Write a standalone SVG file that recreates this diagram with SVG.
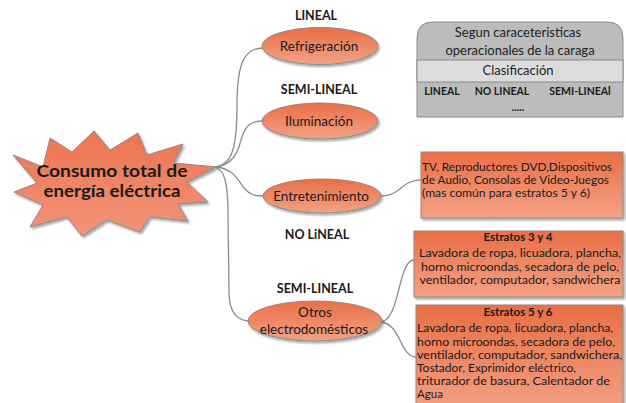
<svg xmlns="http://www.w3.org/2000/svg" width="626" height="403" viewBox="0 0 626 403">
<defs>
<linearGradient id="og" x1="0" y1="0" x2="0" y2="1">
<stop offset="0" stop-color="#ea6e45"/>
<stop offset="1" stop-color="#f3a285"/>
</linearGradient>
<linearGradient id="sg" x1="0" y1="0" x2="0" y2="1">
<stop offset="0" stop-color="#ec7450"/>
<stop offset="1" stop-color="#f29478"/>
</linearGradient>
<filter id="sh" x="-10%" y="-10%" width="130%" height="130%">
<feDropShadow dx="1.5" dy="2" stdDeviation="1.2" flood-color="#000" flood-opacity="0.35"/>
</filter>
</defs>
<style>
.shape{fill:url(#og);stroke:#8a8a8a;stroke-width:1}
.con{fill:none;stroke:#8c8c8c;stroke-width:1.3}
text{font-family:Lato,"Liberation Sans",sans-serif;fill:#1a1a1a}
.lbl{font-size:13.5px;text-anchor:middle}
.cat{font-size:12.5px;font-weight:bold;text-anchor:middle}
.box{font-size:11.5px}
.boxc{font-size:11.5px;text-anchor:middle}
.bt{font-size:11.5px;font-weight:bold;text-anchor:middle}
.gr{font-size:13px;text-anchor:middle;fill:#222}
.sm{font-size:10.5px;font-weight:bold;text-anchor:middle}
</style>
<rect width="626" height="403" fill="#fff"/>

<g id="connectors">
<path class="con" d="M215,167 C233,165 237,145 237,105 C237,62 245,48 263,48"/>
<path class="con" d="M215,167 C233,165 238,152 241,140 C245,126 250,121 263,121"/>
<path class="con" d="M215,167 C233,168 238,180 244,188 C250,195 255,196 263,196"/>
<path class="con" d="M215,167 C224,170 228,180 228,215 L229,292 C229,312 237,320 248,321"/>
<path class="con" d="M381,196 C401,196 401,180 421,180"/>
<path class="con" d="M381,322 C400,320 398,260 414,260"/>
<path class="con" d="M381,322 C401,324 400,357 416,357"/>
</g>

<g id="star">
<polygon fill="url(#sg)" stroke="#8a8a8a" stroke-width="1" filter="url(#sh)" points="94,131 110,150 138,133 147,155 183,144 174,163 217,167 187,182 208,202 178,204 188,221 150,217 140,232 107,220 82,236 67,217 30,227 43,205 14,192 37,183 13,155 43,167 50,138 72,152"/>
<text x="112" y="177" font-size="17" font-weight="bold" text-anchor="middle" textLength="151" lengthAdjust="spacingAndGlyphs">Consumo total de</text>
<text x="112" y="197" font-size="17" font-weight="bold" text-anchor="middle" textLength="137" lengthAdjust="spacingAndGlyphs">energía eléctrica</text>
</g>

<g id="refrigeracion">
<text class="cat" x="316" y="20">LINEAL</text>
<ellipse class="shape" cx="320" cy="46" rx="58" ry="18.5" filter="url(#sh)"/>
<text class="lbl" x="319" y="51">Refrigeración</text>
</g>

<g id="iluminacion">
<text class="cat" x="319" y="94">SEMI-LINEAL</text>
<ellipse class="shape" cx="320" cy="121" rx="58" ry="18" filter="url(#sh)"/>
<text class="lbl" x="319" y="126">Iluminación</text>
</g>

<g id="entretenimiento">
<ellipse class="shape" cx="322" cy="196" rx="59" ry="17" filter="url(#sh)"/>
<text class="lbl" x="321" y="201">Entretenimiento</text>
<text class="cat" x="317" y="239">NO LiNEAL</text>
</g>

<g id="otros">
<text class="cat" x="315" y="293">SEMI-LINEAL</text>
<ellipse class="shape" cx="315" cy="321" rx="67" ry="20" filter="url(#sh)"/>
<text class="lbl" x="315" y="317">Otros</text>
<text class="lbl" x="314" y="334">electrodomésticos</text>
</g>

<g id="clasificacion">
<path d="M417,117 L417,38 Q417,22 433,22 L607,22 Q623,22 623,38 L623,117 Z" fill="#bcbcbc" stroke="#8a8a8a" stroke-width="1"/>
<rect x="417" y="60" width="206" height="22" fill="#dcdcdc" stroke="#8a8a8a" stroke-width="1"/>
<text class="gr" x="518" y="37">Segun caraceteristicas</text>
<text class="gr" x="520" y="55">operacionales de la caraga</text>
<text class="gr" x="518" y="75">Clasificación</text>
<text class="sm" x="442" y="95">LINEAL</text>
<text class="sm" x="502" y="95">NO LINEAL</text>
<text class="sm" x="580" y="95">SEMI-LINEAl</text>
<text class="sm" x="518" y="111" fill="#666" font-weight="normal">.....</text>
</g>

<g id="tv">
<rect class="shape" x="421" y="152" width="202" height="66" filter="url(#sh)"/>
<text class="box" x="422" y="171" textLength="190" lengthAdjust="spacingAndGlyphs">TV, Reproductores DVD,Dispositivos</text>
<text class="box" x="422" y="184" textLength="187" lengthAdjust="spacingAndGlyphs">de Audio, Consolas de Video-Juegos</text>
<text class="box" x="422" y="197" textLength="168" lengthAdjust="spacingAndGlyphs">(mas común para estratos 5 y 6)</text>
</g>

<g id="estratos34">
<rect class="shape" x="414" y="231" width="209" height="66" filter="url(#sh)"/>
<text class="bt" x="518" y="241">Estratos 3 y 4</text>
<text class="boxc" x="520" y="257" textLength="202" lengthAdjust="spacingAndGlyphs">Lavadora de ropa, licuadora, plancha,</text>
<text class="boxc" x="520" y="271" textLength="198" lengthAdjust="spacingAndGlyphs">horno microondas, secadora de pelo,</text>
<text class="boxc" x="520" y="284" textLength="201" lengthAdjust="spacingAndGlyphs">ventilador, computador, sandwichera</text>
</g>

<g id="estratos56">
<rect class="shape" x="416" y="305" width="207" height="110" filter="url(#sh)"/>
<text class="bt" x="518" y="316">Estratos 5 y 6</text>
<text class="box" x="417" y="332" textLength="196" lengthAdjust="spacingAndGlyphs">Lavadora de ropa, licuadora, plancha,</text>
<text class="box" x="417" y="346" textLength="198" lengthAdjust="spacingAndGlyphs">horno microondas, secadora de pelo,</text>
<text class="box" x="417" y="359" textLength="205" lengthAdjust="spacingAndGlyphs">ventilador, computador, sandwichera,</text>
<text class="box" x="417" y="372" textLength="159" lengthAdjust="spacingAndGlyphs">Tostador, Exprimidor eléctrico,</text>
<text class="box" x="417" y="385" textLength="193" lengthAdjust="spacingAndGlyphs">triturador de basura, Calentador de</text>
<text class="box" x="417" y="398">Agua</text>
</g>
</svg>
